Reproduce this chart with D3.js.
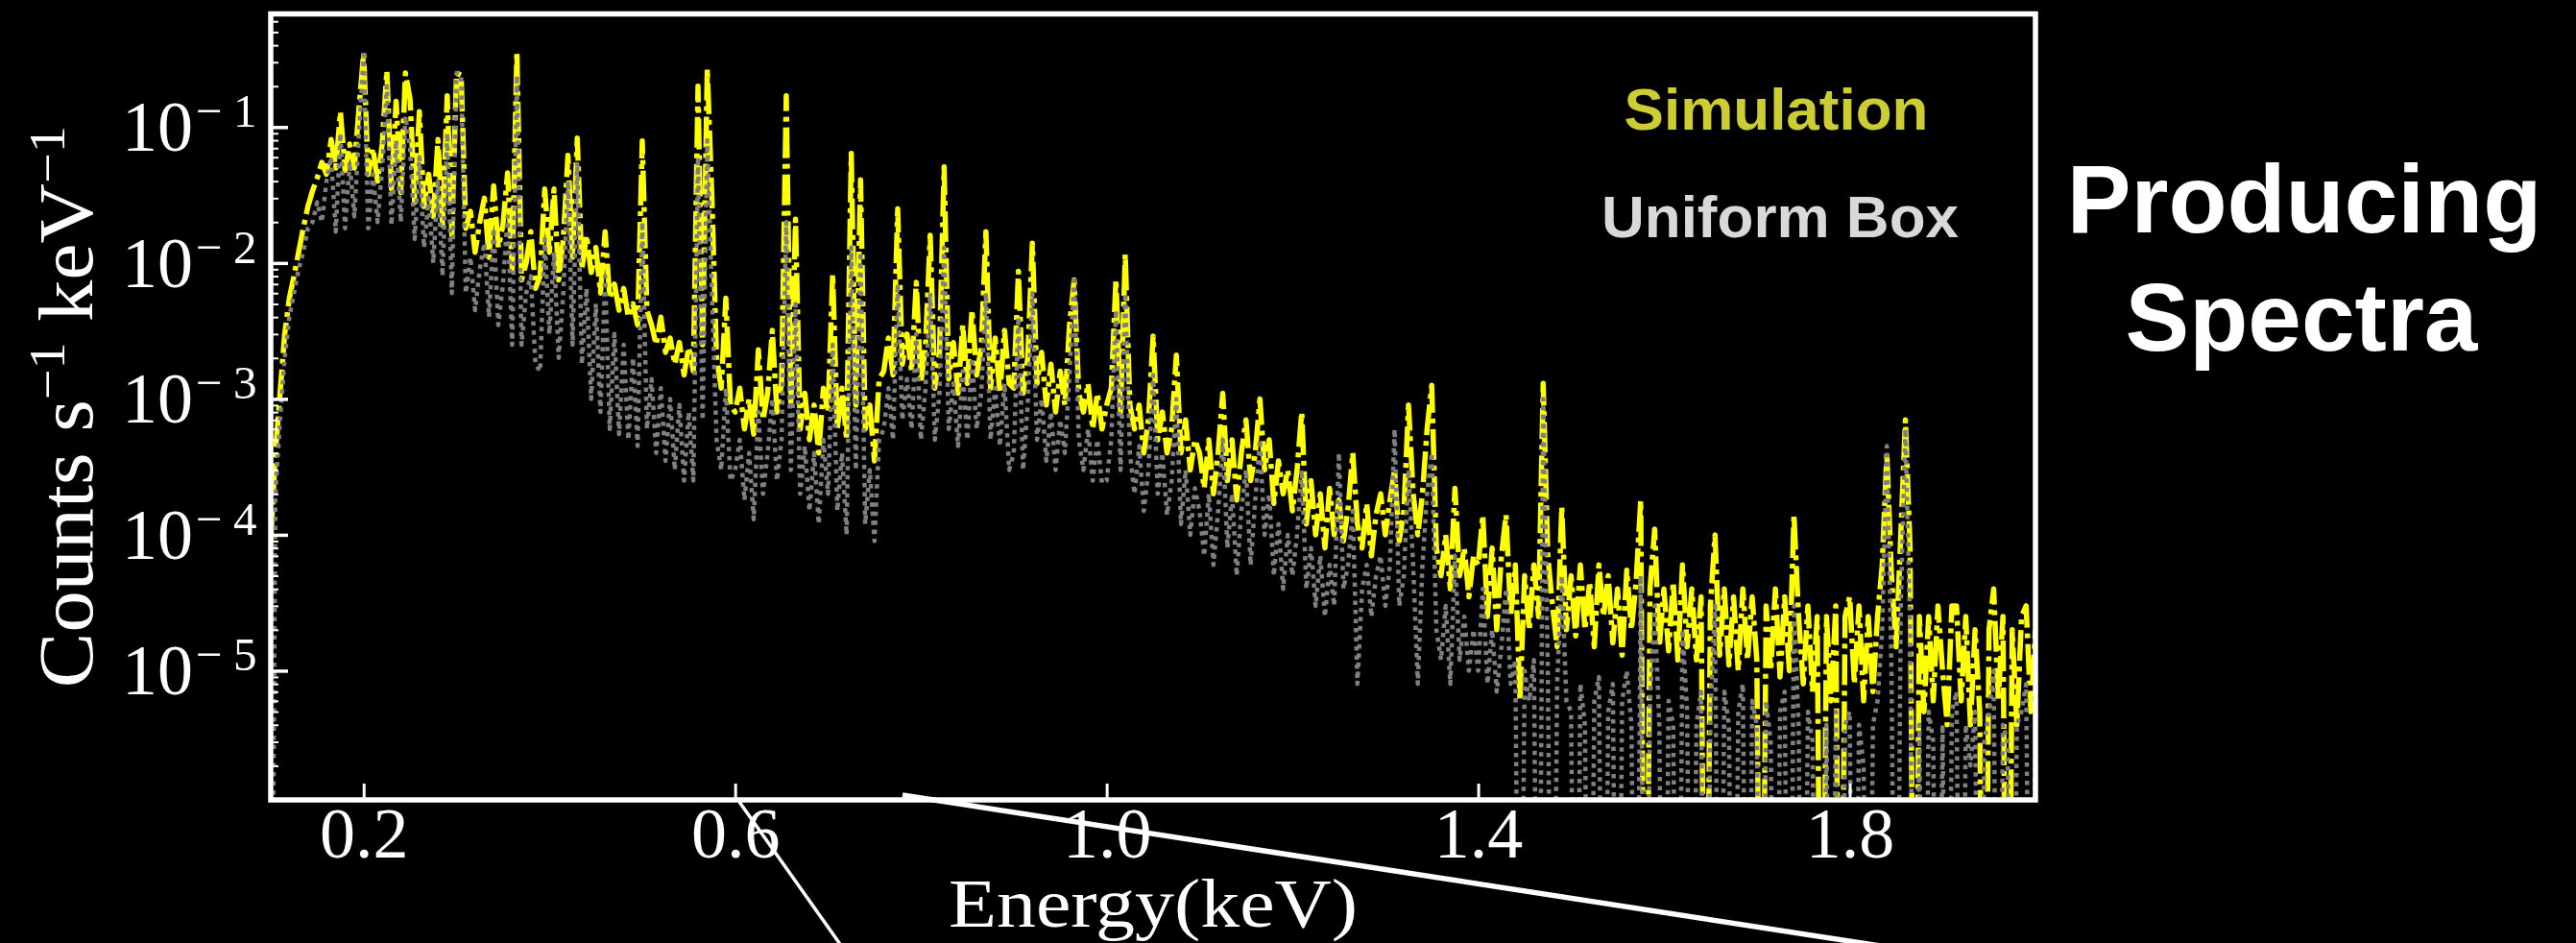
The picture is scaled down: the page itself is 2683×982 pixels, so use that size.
<!DOCTYPE html>
<html>
<head>
<meta charset="utf-8">
<script src="https://cdn.jsdelivr.net/npm/d3@7"></script>
<style>
  html, body { margin: 0; padding: 0; background: #000; }
  svg { display: block; }
</style>
</head>
<body>
<svg id="chart" width="2683" height="982"></svg>
<script>
// Spectrum channels: 5 eV bins starting at 0.1 keV
const channelStart = 0.1;
const channelWidth = 0.005;

// Simulated spectrum, counts s^-1 keV^-1 (one row per 0.1 keV)
const simulation = [
  9e-5, 4e-4, 1.1e-3, 3e-3, 5.5e-3, 8e-3, 1.2e-2, 1.8e-2, 2.6e-2, 3.4e-2, 4.2e-2, 5.5e-2, 4.5e-2, 8.1e-2, 5e-2, 1.3e-1, 4.8e-2, 7.5e-2, 5e-2, 1.38e-1,
  3.5e-1, 4.5e-2, 7e-2, 4e-2, 7.5e-2, 2.6e-1, 3.5e-2, 1.55e-1, 3.3e-2, 2.5e-1, 1.6e-1, 2.8e-2, 1.3e-1, 2.6e-2, 4.5e-2, 2.2e-2, 8.1e-2, 1.9e-2, 1.7e-1, 1.6e-2,
  2.5e-1, 2.4e-1, 1.8e-2, 2.4e-2, 1.2e-2, 2e-2, 3e-2, 1.1e-2, 3.7e-2, 1.3e-2, 1.9e-2, 4.6e-2, 9e-3, 3.6e-1, 7.5e-3, 1e-2, 1.7e-2, 6.5e-3, 8e-3, 3.5e-2,
  1.2e-2, 3.5e-2, 7.5e-3, 1.5e-2, 6.2e-2, 1.1e-2, 8.3e-2, 9e-3, 1.6e-2, 8.5e-3, 1.3e-2, 6e-3, 1.7e-2, 5.5e-3, 7e-3, 4.5e-3, 6.5e-3, 4e-3, 5e-3, 3.5e-3,
  7.9e-2, 4.5e-3, 3.5e-3, 2.5e-3, 4e-3, 2.2e-3, 2.8e-3, 1.8e-3, 2.6e-3, 1.5e-3, 2.4e-3, 1.6e-3, 2e-1, 2.5e-3, 2.7e-1, 3e-2, 2e-3, 1.2e-3, 5.5e-3, 9e-4,
  8e-4, 1.2e-3, 6e-4, 1e-3, 5.5e-4, 2.3e-3, 7e-4, 1.1e-3, 3.2e-3, 8e-4, 1.3e-3, 1.7e-1, 9e-4, 2.1e-2, 6e-4, 1.1e-3, 5e-4, 9e-4, 4e-4, 1.2e-3,
  8e-4, 8.3e-3, 6e-4, 1.2e-3, 5e-4, 6.4e-2, 9e-4, 4.1e-2, 6e-4, 9e-4, 3.5e-4, 1.4e-3, 1.6e-3, 2.8e-3, 1.5e-3, 2.5e-2, 1.8e-3, 3e-3, 1.6e-3, 7.2e-3,
  1.3e-3, 2.5e-3, 1.6e-2, 1.2e-3, 2.2e-3, 5.1e-2, 1.4e-3, 2.6e-3, 1.1e-3, 3.5e-3, 1.3e-3, 4.5e-3, 1.5e-3, 2.4e-3, 1.7e-2, 1.2e-3, 2.8e-3, 1.1e-3, 3.2e-3, 1.3e-3,
  1.2e-3, 8.7e-3, 1.1e-3, 2e-3, 1.4e-2, 1.3e-3, 2.2e-3, 9e-4, 1.8e-3, 8e-4, 1.6e-3, 9e-4, 3.5e-3, 7.5e-3, 1.1e-3, 8e-4, 1.3e-3, 6e-4, 1.1e-3, 6e-4,
  9e-4, 1.2e-3, 7.6e-3, 8e-4, 1.16e-2, 9e-4, 6e-4, 9e-4, 4e-4, 7e-4, 2.9e-3, 5e-4, 8e-4, 4e-4, 6e-4, 2.1e-3, 4e-4, 7e-4, 3e-4, 5e-4,
  4e-4, 2.2e-4, 5e-4, 2e-4, 4e-4, 1.1e-3, 2.5e-4, 5e-4, 1.8e-4, 4e-4, 7e-4, 2.5e-4, 4e-4, 1e-3, 3e-4, 5e-4, 1.7e-4, 3.5e-4, 2e-4, 3e-4,
  1.5e-4, 3e-4, 8e-4, 1.2e-4, 2.5e-4, 1e-4, 2e-4, 8e-5, 2.2e-4, 1e-4, 1.8e-4, 9e-5, 1.6e-4, 4e-4, 1.2e-4, 8e-5, 1.7e-4, 7e-5, 1.4e-4, 2e-4,
  1e-4, 1.8e-4, 3e-4, 9e-5, 1.5e-4, 9e-4, 2e-4, 1e-4, 2e-4, 6e-4, 1.26e-3, 8e-5, 5e-5, 1e-4, 4e-5, 2.2e-4, 5e-5, 8e-5, 3.5e-5, 7e-5,
  6e-5, 1.4e-4, 2.5e-5, 8e-5, 2e-5, 7e-5, 1.4e-4, 2.5e-5, 6e-5, 6e-6, 5e-5, 2e-5, 6e-5, 2.5e-5, 1.3e-3, 7e-5, 3e-5, 1.5e-5, 1.6e-4, 2e-5,
  5e-5, 1.8e-5, 6e-5, 2e-5, 4.5e-5, 1.5e-5, 6e-5, 2.5e-5, 5e-5, 1.6e-5, 4e-5, 1.3e-5, 5.5e-5, 2e-5, 4.5e-5, 1.8e-4, 0, 4e-5, 1.1e-4, 1.5e-5,
  4e-5, 1.4e-5, 4.5e-5, 1.2e-5, 6e-5, 1.5e-5, 4e-5, 1.2e-5, 3.5e-5, 0, 3e-5, 1e-4, 1.3e-5, 4e-5, 1.1e-5, 3.5e-5, 1e-5, 4e-5, 1.2e-5, 3.5e-5,
  1.2e-5, 0, 3e-5, 1e-5, 4e-5, 9e-6, 3.5e-5, 1e-5, 1.4e-4, 2.5e-5, 8e-6, 3e-5, 7e-6, 2.5e-5, 0, 2.5e-5, 6e-6, 3e-5, 0, 2.5e-5,
  3.5e-5, 8e-6, 3e-5, 6e-6, 2.5e-5, 7e-6, 2.5e-5, 6e-5, 4e-4, 5e-5, 1.5e-5, 1e-4, 7e-4, 8e-5, 0, 2.5e-5, 5e-6, 2.5e-5, 6e-6, 3e-5,
  1e-5, 4e-6, 3e-5, 3e-5, 6e-6, 2.5e-5, 4e-6, 2e-5, 5e-6, 0, 2e-5, 4e-5, 6e-6, 2.5e-5, 0, 2e-5, 4e-6, 2.5e-5, 3e-5, 5e-6, 2e-5
];

// Uniform-box model spectrum, counts s^-1 keV^-1 (same channels)
const uniformBox = [
  0, 2e-4, 7e-4, 2e-3, 4e-3, 6e-3, 9e-3, 1.2e-2, 1.8e-2, 2e-2, 2.8e-2, 2e-2, 4e-2, 6e-2, 1.7e-2, 9e-2, 1.8e-2, 5.5e-2, 2.2e-2, 9e-2,
  3.4e-1, 1.8e-2, 4.5e-2, 2e-2, 5e-2, 2e-1, 1.9e-2, 8e-2, 2e-2, 1.2e-1, 7e-2, 1.5e-2, 6e-2, 1.3e-2, 3e-2, 1e-2, 4e-2, 8e-3, 9e-2, 6e-3,
  2.5e-1, 2.4e-1, 6e-3, 1.1e-2, 4.5e-3, 9e-3, 1.4e-2, 4e-3, 1.8e-2, 3.5e-3, 7e-3, 2.2e-2, 2.5e-3, 2.4e-1, 2.5e-3, 6e-3, 8e-3, 1.8e-3, 1.6e-3, 1.5e-2,
  3e-3, 1.2e-2, 2e-3, 6e-3, 4e-2, 2.5e-3, 5.5e-2, 1.8e-3, 6.5e-3, 1e-3, 5e-3, 8e-4, 8e-3, 6e-4, 3e-3, 5.5e-4, 2.5e-3, 5e-4, 2e-3, 4.5e-4,
  2e-2, 6e-4, 1.4e-3, 4e-4, 1.2e-3, 3.5e-4, 1e-3, 3e-4, 9e-4, 2.5e-4, 8e-4, 2.5e-4, 6e-2, 7e-4, 8e-2, 6e-3, 5e-4, 3e-4, 1.2e-3, 2.5e-4,
  3e-4, 5e-4, 1.8e-4, 4e-4, 1.3e-4, 8e-4, 2e-4, 4e-4, 1e-3, 2.5e-4, 5e-4, 2e-2, 3e-4, 5e-3, 2e-4, 4.5e-4, 1.5e-4, 4e-4, 1.2e-4, 5e-4,
  2e-4, 2.5e-3, 1.5e-4, 4e-4, 1e-4, 1.3e-2, 3e-4, 1.2e-2, 1.2e-4, 3e-4, 9e-5, 5e-4, 6e-4, 1.2e-3, 5e-4, 7e-3, 7e-4, 1.4e-3, 6e-4, 3e-3,
  5e-4, 1.2e-3, 6e-3, 5e-4, 1.1e-3, 1.3e-2, 6e-4, 1.3e-3, 4.5e-4, 1.6e-3, 5e-4, 2e-3, 6e-4, 1.1e-3, 6e-3, 5e-4, 1.2e-3, 4.5e-4, 1.3e-3, 3e-4,
  4e-4, 4e-3, 3e-4, 9e-4, 6e-3, 5e-4, 1e-3, 3.5e-4, 8e-4, 3e-4, 7e-4, 4e-4, 1.5e-3, 8e-3, 5e-4, 3e-4, 6e-4, 2.5e-4, 5e-4, 2.4e-4,
  2.5e-4, 5e-4, 4.5e-3, 3e-4, 6e-3, 4e-4, 2e-4, 4.5e-4, 1.5e-4, 3e-4, 1.5e-3, 2e-4, 4e-4, 1.4e-4, 2.5e-4, 1e-3, 1.2e-4, 3e-4, 1e-4, 2.2e-4,
  1.5e-4, 7e-5, 2e-4, 6e-5, 1.5e-4, 5e-4, 8e-5, 2e-4, 5e-5, 1.5e-4, 3e-4, 6e-5, 1.8e-4, 5e-4, 1e-4, 2e-4, 5e-5, 1.2e-4, 4e-5, 1e-4,
  5e-5, 1e-4, 3e-4, 4e-5, 8e-5, 3e-5, 7e-5, 2.5e-5, 6e-5, 3e-5, 4e-4, 4e-5, 6e-5, 1.5e-4, 8e-6, 4e-5, 6e-5, 2.5e-5, 5e-5, 7e-5,
  3e-5, 6e-5, 6e-4, 3e-5, 5e-5, 3e-4, 6e-5, 8e-6, 6e-5, 2e-4, 4e-4, 2e-5, 1.2e-5, 3e-5, 8e-6, 7e-5, 1.2e-5, 2.5e-5, 1e-5, 2e-5,
  1e-5, 4e-5, 8e-6, 2e-5, 7e-6, 1.5e-5, 4e-5, 8e-6, 1.2e-5, 0, 1e-5, 6e-6, 1.2e-5, 0, 1e-3, 1e-5, 0, 8e-6, 5e-5, 6e-6,
  5e-6, 0, 8e-6, 4e-6, 0, 6e-6, 9e-6, 0, 5e-6, 8e-6, 0, 6e-6, 1e-5, 4e-6, 0, 5e-5, 0, 6e-6, 3e-5, 4e-6,
  0, 6e-6, 4e-6, 0, 2e-5, 5e-6, 0, 4e-6, 7e-6, 0, 5e-6, 3e-5, 0, 7e-6, 4e-6, 0, 5e-6, 8e-6, 0, 6e-6,
  4e-6, 0, 6e-6, 3e-6, 0, 5e-6, 7e-6, 0, 3e-5, 4e-6, 0, 5e-6, 3e-6, 0, 0, 4e-6, 0, 5e-6, 0, 4e-6,
  5e-6, 0, 4e-6, 2e-6, 0, 4e-6, 6e-6, 2e-5, 4.5e-4, 1e-5, 0, 3e-5, 6e-4, 2e-5, 0, 4e-6, 0, 5e-6, 3e-6, 0,
  4e-6, 0, 5e-6, 7e-6, 0, 4e-6, 2e-6, 5e-6, 0, 3e-6, 5e-6, 1e-5, 0, 4e-6, 3e-6, 0, 4e-6, 5e-6, 8e-6, 0, 4e-6
];

const xTickValues = [0.2, 0.6, 1.0, 1.4, 1.8];
const yTickExponents = [-1, -2, -3, -4, -5];
const seriesLabels = ["Simulation", "Uniform Box"];
const titleLines = ["Producing", "Spectra"];
const xAxisTitle = "Energy(keV)";

// ---- layout ----
const plot = { left: 282, right: 2120, top: 14.5, bottom: 833 };
const serif = "'Liberation Serif', 'Times New Roman', serif";
const sans = "'Liberation Sans', Arial, Helvetica, sans-serif";

const svg = d3.select("#chart");
svg.append("rect").attr("width", 2683).attr("height", 982).attr("fill", "#000");

const x = d3.scaleLinear().domain([0.1, 2.0]).range([plot.left, plot.right]);
const y = d3.scaleLog().domain([1.12e-6, 0.68]).range([plot.bottom, plot.top]);

svg.append("clipPath").attr("id", "plot-clip")
  .append("rect")
  .attr("x", plot.left).attr("y", plot.top)
  .attr("width", plot.right - plot.left).attr("height", plot.bottom - plot.top);

const energyOf = i => channelStart + i * channelWidth;
// empty channels are pushed far below the axis floor and clipped
const line = d3.line()
  .x((d, i) => x(energyOf(i)))
  .y(d => y(Math.max(d, 1e-9)));

const dataG = svg.append("g").attr("clip-path", "url(#plot-clip)");

dataG.append("path")
  .datum(simulation)
  .attr("d", line)
  .attr("fill", "none")
  .attr("stroke", "#ffff00")
  .attr("stroke-width", 5.5)
  .attr("stroke-dasharray", "32,6,5,6")
  .attr("stroke-linejoin", "round");

dataG.append("path")
  .datum(uniformBox)
  .attr("d", line)
  .attr("fill", "none")
  .attr("stroke", "#808080")
  .attr("stroke-width", 4.5)
  .attr("stroke-dasharray", "4.5,5")
  .attr("stroke-linejoin", "round");

// ---- x axis (ticks point inward) ----
const xAxis = d3.axisBottom(x)
  .tickValues(xTickValues)
  .tickSizeInner(-17)
  .tickSizeOuter(0)
  .tickFormat(d3.format(".1f"));

const xg = svg.append("g")
  .attr("transform", `translate(0,${plot.bottom})`)
  .call(xAxis);
xg.select(".domain").remove();
xg.selectAll(".tick line").attr("stroke", "#fff").attr("stroke-width", 3);
xg.selectAll(".tick text")
  .attr("y", 60).attr("dy", null)
  .attr("fill", "#fff")
  .style("font-family", serif)
  .style("font-size", "74px");

// ---- y axis: major and minor log ticks ----
const majorY = yTickExponents.map(e => Math.pow(10, e));
const minorY = [];
for (let e = -6; e <= -1; e++) {
  for (let m = 2; m <= 9; m++) {
    const v = m * Math.pow(10, e);
    if (v >= y.domain()[0] && v <= y.domain()[1]) minorY.push(v);
  }
}

const yMinor = svg.append("g")
  .attr("transform", `translate(${plot.left},0)`)
  .call(d3.axisLeft(y).tickValues(minorY).tickSizeInner(-8).tickSizeOuter(0).tickFormat(""));
yMinor.select(".domain").remove();
yMinor.selectAll(".tick line").attr("stroke", "#fff").attr("stroke-width", 2);

const yMajor = svg.append("g")
  .attr("transform", `translate(${plot.left},0)`)
  .call(d3.axisLeft(y).tickValues(majorY).tickSizeInner(-18).tickSizeOuter(0).tickFormat(""));
yMajor.select(".domain").remove();
yMajor.selectAll(".tick line").attr("stroke", "#fff").attr("stroke-width", 3.5);

// tick labels written as 10 with a superscript exponent
const yLabels = svg.append("g").attr("fill", "#fff").style("font-family", serif);
yTickExponents.forEach(e => {
  const ty = y(Math.pow(10, e));
  yLabels.append("text")
    .attr("x", 201).attr("y", ty + 25)
    .attr("text-anchor", "end")
    .style("font-size", "74px")
    .text("10");
  const sup = yLabels.append("text")
    .attr("y", ty)
    .style("font-size", "49px");
  sup.append("tspan").attr("x", 204).text("\u2212");
  sup.append("tspan").attr("x", 243).text(String(Math.abs(e)));
});

// ---- frame ----
svg.append("rect")
  .attr("x", plot.left).attr("y", plot.top)
  .attr("width", plot.right - plot.left).attr("height", plot.bottom - plot.top)
  .attr("fill", "none").attr("stroke", "#fff").attr("stroke-width", 5.5);

// ---- axis titles ----
svg.append("text")
  .attr("x", (plot.left + plot.right) / 2).attr("y", 965)
  .attr("text-anchor", "middle")
  .attr("fill", "#fff")
  .attr("textLength", 426).attr("lengthAdjust", "spacingAndGlyphs")
  .style("font-family", serif).style("font-size", "72px")
  .text(xAxisTitle);

const yTitle = svg.append("text")
  .attr("transform", `translate(96,${(plot.top + plot.bottom) / 2}) rotate(-90)`)
  .attr("text-anchor", "middle")
  .attr("fill", "#fff")
  .attr("textLength", 585).attr("lengthAdjust", "spacingAndGlyphs")
  .style("font-family", serif).style("font-size", "80px");
yTitle.append("tspan").text("Counts s");
yTitle.append("tspan").attr("dy", -29).style("font-size", "52px").text("\u22121");
yTitle.append("tspan").attr("dy", 29).text(" keV");
yTitle.append("tspan").attr("dy", -29).style("font-size", "52px").text("\u22121");

// ---- series labels inside the frame ----
svg.append("text")
  .attr("x", 1850).attr("y", 135)
  .attr("text-anchor", "middle")
  .attr("fill", "#cccc33")
  .style("font-family", sans).style("font-weight", "bold").style("font-size", "62px")
  .text(seriesLabels[0]);
svg.append("text")
  .attr("x", 1854).attr("y", 247)
  .attr("text-anchor", "middle")
  .attr("fill", "#d9d9d9")
  .style("font-family", sans).style("font-weight", "bold").style("font-size", "62px")
  .text(seriesLabels[1]);

// ---- slide title ----
svg.append("text")
  .attr("x", 2400).attr("y", 242)
  .attr("text-anchor", "middle")
  .attr("fill", "#fff")
  .style("font-family", sans).style("font-weight", "bold").style("font-size", "100px")
  .text(titleLines[0]);
svg.append("text")
  .attr("x", 2397).attr("y", 365)
  .attr("text-anchor", "middle")
  .attr("fill", "#fff")
  .style("font-family", sans).style("font-weight", "bold").style("font-size", "100px")
  .text(titleLines[1]);

// ---- callout lines leading to the zoomed view below ----
svg.append("line")
  .attr("x1", 770).attr("y1", 835).attr("x2", 877).attr("y2", 986)
  .attr("stroke", "#fff").attr("stroke-width", 3.5);
svg.append("line")
  .attr("x1", 940).attr("y1", 828).attr("x2", 1965).attr("y2", 986)
  .attr("stroke", "#fff").attr("stroke-width", 5.5);
</script>
</body>
</html>
